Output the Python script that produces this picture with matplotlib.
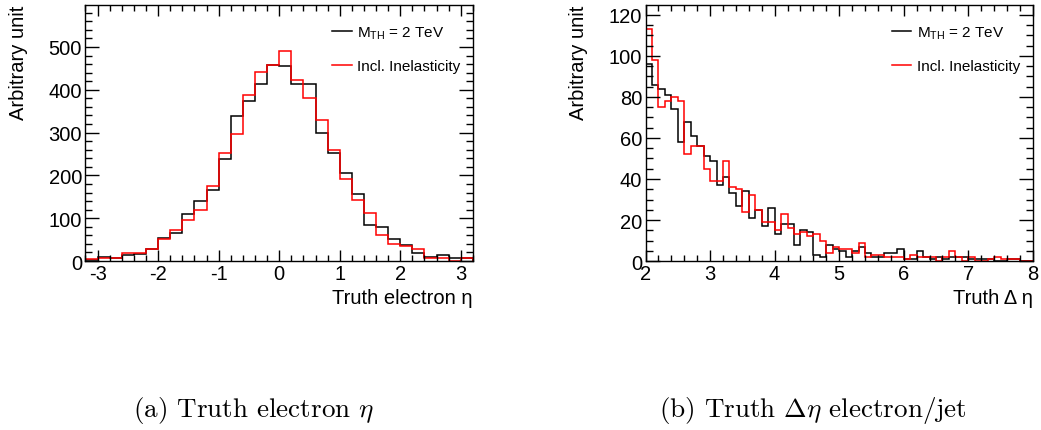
import matplotlib
matplotlib.use('Agg')
import matplotlib.pyplot as plt
from matplotlib.ticker import MultipleLocator
import numpy as np

plt.rcParams['font.family'] = ['Liberation Sans', 'DejaVu Sans']
plt.rcParams['axes.unicode_minus'] = False

# truth electron eta, 32 bins from -3.2 to 3.2
eta_edges = np.linspace(-3.2, 3.2, 33)
eta_mth = [3, 9, 8, 13, 16, 29, 53, 66, 110, 140, 165, 239, 339, 375, 414, 459,
           456, 414, 414, 300, 253, 206, 157, 85, 79, 51, 37, 19, 9, 13, 8, 8]
eta_inel = [4, 8, 8, 19, 19, 29, 51, 72, 95, 120, 176, 253, 297, 389, 442, 458,
            491, 424, 382, 329, 260, 192, 142, 112, 62, 40, 34, 27, 6, 8, 0, 6]

# truth delta eta electron/jet, 60 bins from 2 to 8
deta_edges = np.linspace(2.0, 8.0, 61)
deta_mth = [96, 86, 84, 81, 74, 58, 68, 61, 56, 51,
            49, 37, 41, 33, 27, 34, 21, 25, 17, 26,
            13, 18, 18, 8, 15, 14, 3, 2, 8, 6,
            5, 2, 5, 7, 4, 2, 2, 4, 4, 6,
            1, 1, 5, 2, 1, 2, 1, 2, 2, 2,
            1, 1, 1, 1, 0, 0, 1, 1, 0, 0]
deta_inel = [113, 98, 75, 78, 80, 78, 52, 56, 56, 45,
             39, 39, 49, 36, 35, 24, 32, 25, 19, 19,
             15, 23, 16, 13, 14, 12, 13, 10, 4, 7,
             6, 6, 4, 9, 2, 3, 3, 2, 2, 2,
             1, 3, 2, 2, 2, 0, 2, 5, 2, 0,
             2, 0, 0, 1, 2, 1, 1, 1, 0, 0]

legend_labels = [r'M$_{\mathregular{TH}}$ = 2 TeV', 'Incl. Inelasticity']
captions = [r'(a) Truth electron $\eta$', r'(b) Truth $\Delta\eta$ electron/jet']


def draw_panel(ax, edges, black, red, ylim, xlabel, ymajor, yminor):
    ax.stairs(black, edges, color='black', lw=1.1, label=legend_labels[0])
    ax.stairs(red, edges, color='#ff0000', lw=1.1, label=legend_labels[1])
    ax.set_xlim(edges[0], edges[-1])
    ax.set_ylim(0, ylim)
    ax.xaxis.set_major_locator(MultipleLocator(1))
    ax.xaxis.set_minor_locator(MultipleLocator(0.2))
    ax.yaxis.set_major_locator(MultipleLocator(ymajor))
    ax.yaxis.set_minor_locator(MultipleLocator(yminor))
    ax.tick_params(which='both', direction='in', top=True, right=True,
                   labelsize=14.5, width=1)
    ax.tick_params(axis='x', which='major', length=8, pad=2)
    ax.tick_params(axis='x', which='minor', length=4)
    ax.tick_params(axis='y', which='major', length=10, pad=2.5)
    ax.tick_params(axis='y', which='minor', length=5)
    for s in ax.spines.values():
        s.set_linewidth(1.0)
    ax.set_xlabel(xlabel, fontsize=14.5, ha='right', va='top')
    ax.xaxis.set_label_coords(1.0, -0.105)
    ax.set_ylabel('Arbitrary unit', fontsize=14.5, ha='right', va='center')
    ax.yaxis.set_label_coords(-0.174, 1.0)
    ax.legend(loc='upper right', bbox_to_anchor=(0.967, 0.923), frameon=False,
              fontsize=11, borderpad=0, borderaxespad=0, handlelength=1.3,
              handletextpad=0.35, labelspacing=1.15)


fig = plt.figure(figsize=(10.41, 4.31), dpi=100)
ax1 = fig.add_axes([0.0821, 0.392, 0.3722, 0.594])
ax2 = fig.add_axes([0.6201, 0.392, 0.372, 0.594])

draw_panel(ax1, eta_edges, eta_mth, eta_inel, 598, 'Truth electron η', 100, 20)
draw_panel(ax2, deta_edges, deta_mth, deta_inel, 124.8, 'Truth Δ η', 20, 5)

fig.text(253.5 / 1041, 1 - 411 / 431, captions[0], family='cmr10',
         math_fontfamily='cm', fontsize=19.5, ha='center', va='center')
fig.text(813 / 1041, 1 - 411 / 431, captions[1], family='cmr10',
         math_fontfamily='cm', fontsize=19.5, ha='center', va='center')

fig.savefig('out.png', dpi=100)
